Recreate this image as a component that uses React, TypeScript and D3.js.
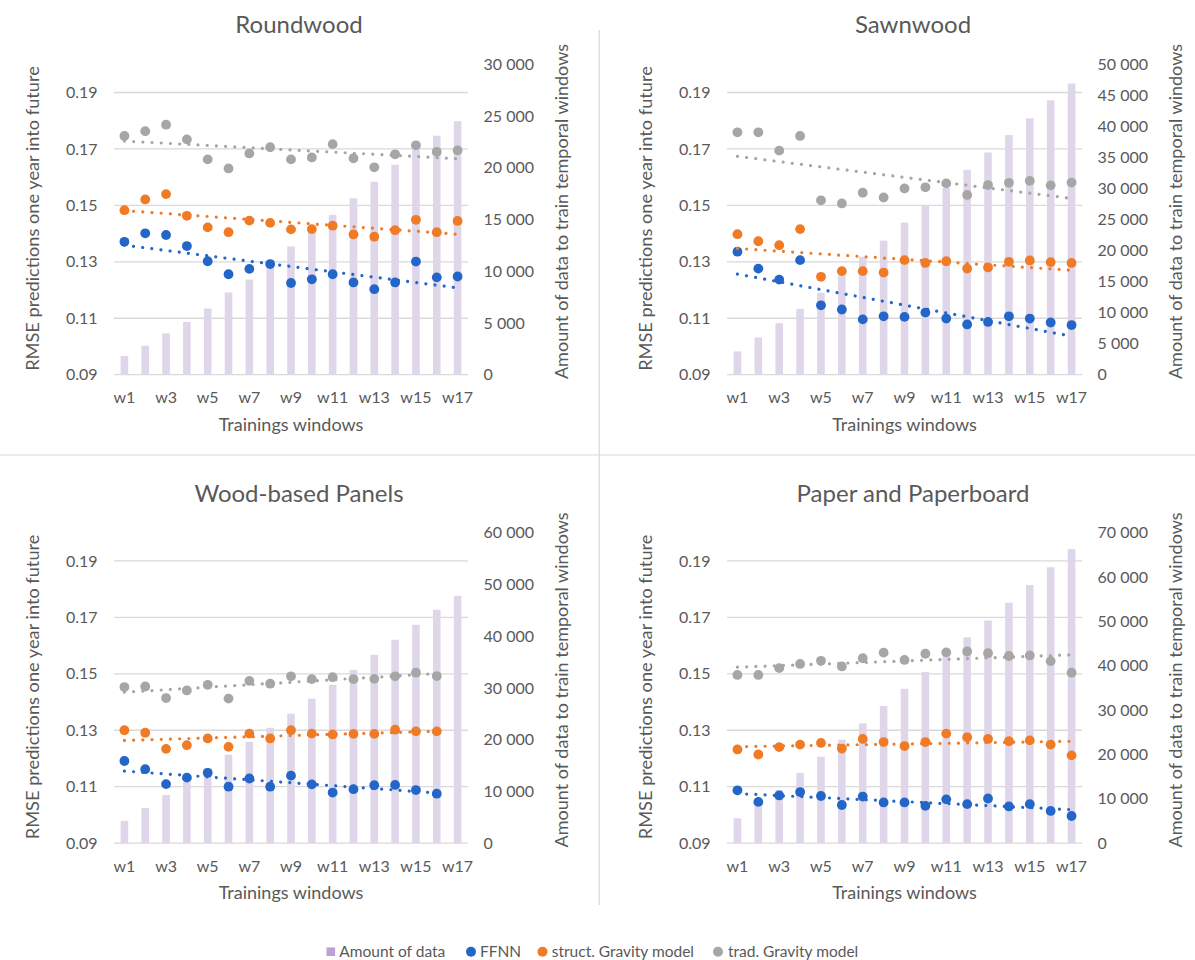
import React, { useEffect } from "react";
import * as d3 from "d3";

const windows = ["w1","w2","w3","w4","w5","w6","w7","w8","w9","w10","w11","w12","w13","w14","w15","w16","w17"];
const leftTicks = [0.09, 0.11, 0.13, 0.15, 0.17, 0.19];

const roundwoodAmount = [1800, 2800, 4000, 5100, 6400, 7950, 9200, 10900, 12400, 14000, 15450, 17050, 18650, 20300, 22000, 23100, 24500];
const roundwoodFFNN = [0.1371, 0.1401, 0.1395, 0.1356, 0.1302, 0.1256, 0.1275, 0.1292, 0.1225, 0.1238, 0.1256, 0.1227, 0.1203, 0.1227, 0.1301, 0.1245, 0.1248];
const roundwoodStruct = [0.1483, 0.1521, 0.1540, 0.1463, 0.1422, 0.1405, 0.1446, 0.1438, 0.1415, 0.1416, 0.1428, 0.1397, 0.1389, 0.1412, 0.1449, 0.1405, 0.1445];
const roundwoodTrad = [0.1746, 0.1763, 0.1786, 0.1734, 0.1663, 0.1631, 0.1684, 0.1706, 0.1663, 0.1670, 0.1717, 0.1667, 0.1635, 0.1681, 0.1713, 0.1690, 0.1695];

const sawnwoodAmount = [3750, 6000, 8300, 10600, 13200, 16100, 19000, 21600, 24500, 27200, 30100, 33000, 35800, 38600, 41300, 44200, 46900];
const sawnwoodFFNN = [0.1336, 0.1276, 0.1237, 0.1306, 0.1146, 0.1131, 0.1096, 0.1107, 0.1105, 0.1120, 0.1099, 0.1078, 0.1087, 0.1107, 0.1099, 0.1085, 0.1076];
const sawnwoodStruct = [0.1398, 0.1373, 0.1359, 0.1416, 0.1247, 0.1267, 0.1267, 0.1262, 0.1306, 0.1296, 0.1302, 0.1276, 0.1280, 0.1300, 0.1305, 0.1299, 0.1296];
const sawnwoodTrad = [0.1759, 0.1759, 0.1694, 0.1746, 0.1518, 0.1507, 0.1545, 0.1528, 0.1560, 0.1564, 0.1578, 0.1537, 0.1572, 0.1580, 0.1587, 0.1571, 0.1581];

const panelsAmount = [4300, 6800, 9300, 11900, 14500, 17100, 19600, 22300, 25000, 27900, 30600, 33500, 36400, 39300, 42200, 45100, 47800];
const panelsFFNN = [0.1191, 0.1162, 0.1109, 0.1132, 0.1149, 0.1100, 0.1129, 0.1100, 0.1139, 0.1108, 0.1079, 0.1091, 0.1105, 0.1106, 0.1088, 0.1075];
const panelsStruct = [0.1300, 0.1291, 0.1234, 0.1247, 0.1271, 0.1241, 0.1288, 0.1271, 0.1300, 0.1288, 0.1285, 0.1287, 0.1287, 0.1302, 0.1296, 0.1296];
const panelsTrad = [0.1453, 0.1455, 0.1414, 0.1441, 0.1461, 0.1412, 0.1475, 0.1465, 0.1491, 0.1481, 0.1488, 0.1481, 0.1482, 0.1491, 0.1504, 0.1492];

const paperAmount = [5600, 9000, 12000, 15800, 19500, 23300, 27000, 30900, 34800, 38600, 42500, 46400, 50200, 54200, 58200, 62200, 66300];
const paperFFNN = [0.1087, 0.1046, 0.1069, 0.1081, 0.1067, 0.1035, 0.1065, 0.1044, 0.1044, 0.1032, 0.1055, 0.1038, 0.1058, 0.1030, 0.1038, 0.1014, 0.0996];
const paperStruct = [0.1232, 0.1214, 0.1240, 0.1249, 0.1255, 0.1235, 0.1269, 0.1258, 0.1244, 0.1258, 0.1288, 0.1275, 0.1269, 0.1261, 0.1264, 0.1249, 0.1211];
const paperTrad = [0.1496, 0.1496, 0.1520, 0.1535, 0.1546, 0.1526, 0.1555, 0.1575, 0.1549, 0.1571, 0.1576, 0.1579, 0.1573, 0.1563, 0.1565, 0.1545, 0.1504];

const seriesNames = ["Amount of data", "FFNN", "struct. Gravity model", "trad. Gravity model"];
const COLORS = { bar: "#E0D6EA", barLegend: "#BCA2D4", ffnn: "#2366C8", struct: "#F07B26", trad: "#A6A6A6" };
const TEXT = "#595959";
const FONT = "Lato, 'Open Sans', sans-serif";

const panels = [
  { title: "Roundwood", amount: roundwoodAmount, ffnn: roundwoodFFNN, struct: roundwoodStruct, trad: roundwoodTrad, rMax: 30000, rStep: 5000, col: 0, row: 0 },
  { title: "Sawnwood", amount: sawnwoodAmount, ffnn: sawnwoodFFNN, struct: sawnwoodStruct, trad: sawnwoodTrad, rMax: 50000, rStep: 5000, col: 1, row: 0 },
  { title: "Wood-based Panels", amount: panelsAmount, ffnn: panelsFFNN, struct: panelsStruct, trad: panelsTrad, rMax: 60000, rStep: 10000, col: 0, row: 1 },
  { title: "Paper and Paperboard", amount: paperAmount, ffnn: paperFFNN, struct: paperStruct, trad: paperTrad, rMax: 70000, rStep: 10000, col: 1, row: 1 },
];

function regression(vals: number[]) {
  const xs = vals.map((_, i) => i + 1);
  const mx = d3.mean(xs) as number;
  const my = d3.mean(vals) as number;
  let sxy = 0, sxx = 0;
  xs.forEach((x, i) => { sxy += (x - mx) * (vals[i] - my); sxx += (x - mx) * (x - mx); });
  const b = sxy / sxx;
  const a = my - b * mx;
  return (x: number) => a + b * x;
}

const fmtRight = (v: number) => d3.format(",")(v).replace(/,/g, " ");

function Panel({ p }: { p: any }) {
  const x0 = p.col === 0 ? 114 : 727;
  const x1 = p.col === 0 ? 468 : 1082;
  const yOff = p.row === 0 ? 0 : 468.4;
  const yTop = 64.3 + yOff;
  const yBot = 374.7 + yOff;
  const titleX = p.col === 0 ? 299 : 913;

  const xBand = d3.scaleBand().domain(windows).range([x0, x1]).paddingInner(0).paddingOuter(0);
  const xc = (i: number) => (xBand(windows[i]) as number) + xBand.bandwidth() / 2;
  const yL = d3.scaleLinear().domain([0.09, 0.2]).range([yBot, yTop]);
  const yR = d3.scaleLinear().domain([0, p.rMax]).range([yBot, yTop]);
  const rTicks = d3.range(0, p.rMax + 1, p.rStep);
  const barW = 7.6;

  const series = [
    { key: "ffnn", vals: p.ffnn, color: COLORS.ffnn },
    { key: "struct", vals: p.struct, color: COLORS.struct },
    { key: "trad", vals: p.trad, color: COLORS.trad },
  ];

  const plotMidY = (yTop + yBot) / 2;
  const plotMidX = (x0 + x1) / 2;

  return (
    <g>
      <text x={titleX} y={33.3 + yOff} textAnchor="middle" fontSize={24} fill={TEXT} fontFamily={FONT}>{p.title}</text>
      {leftTicks.map((t) => (
        <line key={"g" + t} x1={x0} x2={x1} y1={yL(t)} y2={yL(t)} stroke="#D9D9D9" strokeWidth={1.3} />
      ))}
      {p.amount.map((v: number, i: number) => (
        <rect key={"b" + i} x={xc(i) - barW / 2} width={barW} y={yR(v)} height={yBot - yR(v)} fill={COLORS.bar} />
      ))}
      {leftTicks.map((t) => (
        <text key={"lt" + t} x={x0 - 16.4} y={yL(t)} dy="0.35em" textAnchor="end" fontSize={16} fill={TEXT} fontFamily={FONT}>{d3.format(".2f")(t)}</text>
      ))}
      {rTicks.map((t: number) => (
        <text key={"rt" + t} x={x1 + 15.5} y={yR(t)} dy="0.35em" textAnchor="start" fontSize={16} fill={TEXT} fontFamily={FONT}>{fmtRight(t)}</text>
      ))}
      {windows.map((w, i) => (i % 2 === 0 ? (
        <text key={"xt" + w} x={xc(i)} y={yBot + 28.6} textAnchor="middle" fontSize={16} fill={TEXT} fontFamily={FONT}>{w}</text>
      ) : null))}
      <text x={plotMidX} y={yBot + 56} textAnchor="middle" fontSize={18} fill={TEXT} fontFamily={FONT}>Trainings windows</text>
      <text transform={`translate(${x0 - 81},${plotMidY - 1}) rotate(-90)`} dy="0.35em" textAnchor="middle" fontSize={18.2} fill={TEXT} fontFamily={FONT}>RMSE predictions one year into future</text>
      <text transform={`translate(${x1 + 94},${plotMidY - 8}) rotate(-90)`} dy="0.35em" textAnchor="middle" fontSize={18} fill={TEXT} fontFamily={FONT}>Amount of data to train temporal windows</text>
      {series.map((s) => (
        <g key={s.key}>
          {s.vals.map((v: number, i: number) => (
            <circle key={i} cx={xc(i)} cy={yL(v)} r={4.9} fill={s.color} />
          ))}
        </g>
      ))}
      {series.map((s) => {
        const f = regression(s.vals);
        const n = s.vals.length;
        const line = d3.line<number>().x((i) => xc(i)).y((i) => yL(f(i + 1)));
        return (
          <path key={"tr" + s.key} d={line([0, n - 1]) as string} stroke={s.color} strokeWidth={3.2} strokeLinecap="round" strokeDasharray="0.01 9.2" fill="none" />
        );
      })}
    </g>
  );
}

function Legend() {
  const y = 951.7;
  const items = [
    { kind: "rect", color: COLORS.barLegend, mx: 330.8, tx: 339.3 },
    { kind: "circle", color: COLORS.ffnn, mx: 471, tx: 480 },
    { kind: "circle", color: COLORS.struct, mx: 542.5, tx: 551.7 },
    { kind: "circle", color: COLORS.trad, mx: 718, tx: 728 },
  ];
  return (
    <g>
      {items.map((it, i) => (
        <g key={i}>
          {it.kind === "rect" ? (
            <rect x={it.mx - 4.3} y={y - 4.3} width={8.6} height={8.6} fill={it.color} />
          ) : (
            <circle cx={it.mx} cy={y} r={5} fill={it.color} />
          )}
          <text x={it.tx} y={y} dy="0.35em" fontSize={15.5} fill={TEXT} fontFamily={FONT}>{seriesNames[i]}</text>
        </g>
      ))}
    </g>
  );
}

export default function App() {
  useEffect(() => {
    document.body.style.margin = "0";
  }, []);
  return (
    <svg width={1195} height={960} style={{ position: "absolute", left: 0, top: 0, background: "#fff" }}>
      <rect x={0} y={0} width={1195} height={960} fill="#fff" />
      <line x1={599.3} x2={599.3} y1={30} y2={905} stroke="#D9D9D9" strokeWidth={1.2} />
      <line x1={0} x2={1195} y1={455} y2={455} stroke="#D9D9D9" strokeWidth={1.2} />
      {panels.map((p) => <Panel key={p.title} p={p} />)}
      <Legend />
    </svg>
  );
}
